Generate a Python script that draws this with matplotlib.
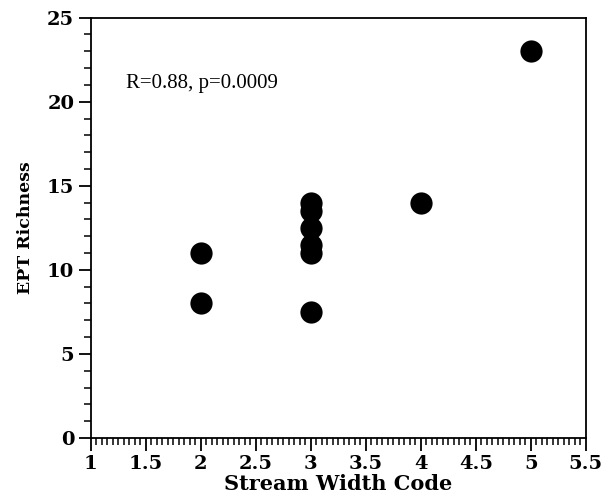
import matplotlib
matplotlib.use("Agg")
import matplotlib.pyplot as plt
from matplotlib.ticker import MultipleLocator

stream_width_code = [2, 2, 3, 3, 3, 3, 3, 3, 4, 5]
ept_richness = [11, 8, 14, 13.5, 12.5, 11.5, 11, 7.5, 14, 23]
annotation = "R=0.88, p=0.0009"

fig = plt.figure(figsize=(6.02, 5.04), dpi=100)
ax = fig.add_axes([0.151, 0.131, 0.822, 0.834])

ax.plot(stream_width_code, ept_richness, linestyle="none", marker="o",
        markersize=16, color="black", markeredgewidth=0)

ax.set_xlim(1, 5.5)
ax.set_ylim(0, 25)
ax.xaxis.set_major_locator(MultipleLocator(0.5))
ax.xaxis.set_minor_locator(MultipleLocator(0.05))
ax.yaxis.set_major_locator(MultipleLocator(5))
ax.yaxis.set_minor_locator(MultipleLocator(1))

ax.set_xticks([1, 1.5, 2, 2.5, 3, 3.5, 4, 4.5, 5, 5.5])
ax.set_xticklabels(["1", "1.5", "2", "2.5", "3", "3.5", "4", "4.5", "5", "5.5"])

ax.tick_params(which="major", direction="out", length=9, width=1.3,
               top=False, right=False, labelsize=14, pad=3)
ax.tick_params(which="minor", direction="out", length=5, width=1.1,
               top=False, right=False)
for lab in ax.get_xticklabels() + ax.get_yticklabels():
    lab.set_fontfamily("DejaVu Serif")
    lab.set_fontweight("bold")

for s in ax.spines.values():
    s.set_linewidth(1.3)

ax.set_xlabel("Stream Width Code", fontfamily="DejaVu Serif",
              fontweight="bold", fontsize=15, labelpad=1)
ax.set_ylabel("EPT Richness", fontfamily="DejaVu Serif",
              fontweight="bold", fontsize=12.5, labelpad=9)

ax.text(1.32, 20.8, annotation, fontfamily="Liberation Serif",
        fontsize=15, va="baseline", ha="left")

fig.savefig("out.png", dpi=100)
